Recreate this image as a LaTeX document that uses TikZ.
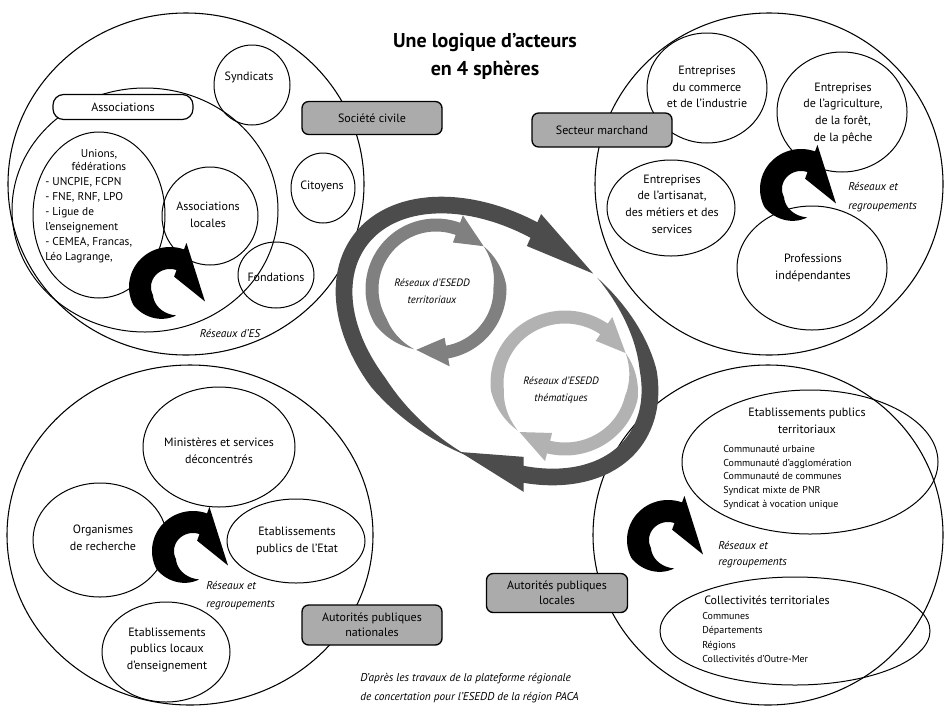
\documentclass[tikz,border=0pt]{standalone}
\usepackage{fontspec}
\setmainfont{PT Sans}
\usetikzlibrary{shapes.geometric}
% circular arrow: cx, cy, rx, ry, rotation, band width, tail angle, head-base angle, tip angle
\def\cycTO{0}
\newcommand\cycArrow[9]{%
  \pgfmathsetmacro\cycHW{#6/2}%
  \fill[fill=\cycColor, shift={(#1,#2)}, rotate=#5]
    plot[domain=#7:#8, samples=70] ({(#3+\cycHW*min(1,(\x-#7)/\cycT))*cos(\x)}, {(#4+\cycHW*min(1,(\x-#7)/\cycT))*sin(\x)})
    -- ({(#3+\cycHW+\cycH)*cos(#8)}, {(#4+\cycHW+\cycH)*sin(#8)})
    -- ({(#3+\cycTO)*cos(#9)}, {(#4+\cycTO)*sin(#9)})
    -- ({(#3-\cycHW-\cycH)*cos(#8)}, {(#4-\cycHW-\cycH)*sin(#8)})
    -- plot[domain=#8:#7, samples=70] ({(#3-\cycHW*min(1,(\x-#7)/\cycT))*cos(\x)}, {(#4-\cycHW*min(1,(\x-#7)/\cycT))*sin(\x)})
    -- cycle;}
\newcommand\blackSwirl[2]{%
  \def\cycColor{black}\def\cycH{7}\def\cycT{75}\def\cycTO{8}%
  \cycArrow{#1}{#2}{30}{29}{0}{22}{78}{290}{383}\def\cycTO{0}}
\begin{document}
\begin{tikzpicture}[x=0.75pt,y=-0.75pt,
  sph/.style={draw, ellipse, line width=0.8pt, inner sep=0pt, outer sep=0pt},
  bub/.style={draw, ellipse, line width=0.75pt, inner sep=0pt, outer sep=0pt},
  gbox/.style={draw, rectangle, rounded corners=5pt, fill=black!33, line width=1pt, inner sep=0pt, align=center, font=\fontsize{9}{11.5}\selectfont},
  txt/.style={inner sep=0pt, align=center, font=\fontsize{9}{12.5}\selectfont},
  itx/.style={inner sep=0pt, align=left, font=\fontsize{8.5}{14}\selectfont\itshape},
  lst/.style={inner sep=0pt, align=left, anchor=north west}
]
\useasboundingbox (0,0) rectangle (945,707);

% ---------- four spheres ----------
\node[sph, minimum width=267pt, minimum height=256.5pt] (sc) at (186,184) {};
\node[sph, minimum width=261pt, minimum height=256.5pt] (sm) at (769,184) {};
\node[sph, minimum width=274.5pt, minimum height=255pt] (apn) at (190,535) {};
\node[sph, minimum width=262.5pt, minimum height=255pt] (apl) at (768,535) {};

% ---------- société civile ----------
\node[bub, minimum width=199.5pt, minimum height=183pt] (assocE) at (145,210) {};
\node[bub, minimum width=99pt, minimum height=124.5pt] (unions) at (99,215) {};
\node[bub, minimum width=72pt, minimum height=73.5pt] (asloc) at (210,216) {};
\node[bub, minimum width=57pt, minimum height=60pt] (synd) at (252,85) {};
\node[bub, minimum width=48pt, minimum height=52.5pt] (citoy) at (323,188) {};
\node[bub, minimum width=57pt, minimum height=49.5pt] (fond) at (276,275) {};

% ---------- secteur marchand ----------
\node[bub, minimum width=90pt, minimum height=82.5pt] (com) at (707,88) {};
\node[bub, minimum width=97.5pt, minimum height=90pt] (agri) at (842,112) {};
\node[bub, minimum width=96pt, minimum height=72pt] (arti) at (671,208) {};
\node[bub, minimum width=112.5pt, minimum height=93pt] (prof) at (812,268) {};

% ---------- autorités publiques nationales ----------
\node[bub, minimum width=114pt, minimum height=90pt] (mini) at (219,447) {};
\node[bub, minimum width=100.5pt, minimum height=85.5pt] (orga) at (100,540) {};
\node[bub, minimum width=103.5pt, minimum height=63pt] (etab) at (296,541) {};
\node[bub, minimum width=96pt, minimum height=75pt] (epl) at (166,652) {};

% ---------- autorités publiques locales ----------
\node[bub, minimum width=192pt, minimum height=108pt] (ept) at (810,462) {};
\node[bub, minimum width=202.5pt, minimum height=81pt] (coll) at (795,631) {};

% ---------- central circular arrows ----------
\def\cycColor{black!70}\def\cycH{9}\def\cycT{40}
\cycArrow{497}{341}{170}{114}{-36}{17}{75}{258}{283}
\cycArrow{497}{341}{170}{114}{-36}{17}{285}{414}{438}
\def\cycColor{black!50}\def\cycH{8}\def\cycT{40}
\cycArrow{436}{289}{64}{64}{0}{13}{110}{290}{318}
\cycArrow{436}{289}{64}{64}{0}{13}{318}{440}{468}
\def\cycColor{black!30}
\cycArrow{565}{383}{68}{66}{0}{13}{134}{305}{333}
\cycArrow{565}{383}{68}{66}{0}{13}{333}{464}{492}

% ---------- black swirls ----------
\blackSwirl{170}{287}
\blackSwirl{801}{189}
\blackSwirl{193}{551}
\blackSwirl{668}{540}

% ---------- boxes ----------
\node[draw, rectangle, rounded corners=8pt, fill=white, line width=0.9pt, minimum width=105pt, minimum height=18.75pt, inner sep=0pt, font=\fontsize{9}{11}\selectfont] (assocB) at (123,107) {Associations};
\node[gbox, minimum width=105pt, minimum height=24.75pt] (scB) at (372,118) {Société civile};
\node[gbox, minimum width=105pt, minimum height=25.5pt] (smB) at (602,130) {Secteur marchand};
\node[gbox, minimum width=105pt, minimum height=30pt] (apnB) at (372,625) {Autorités publiques\\nationales};
\node[gbox, minimum width=105.75pt, minimum height=29.25pt] (aplB) at (557,593) {Autorités publiques\\locales};

% ---------- texts ----------
\node[inner sep=0pt, align=center, font=\fontsize{15}{21}\selectfont\bfseries] (title) at (485,56) {Une logique d'acteurs\\en 4 sphères};

\node[txt] (tSynd) at (249,77) {Syndicats};
\node[txt] (tCit) at (322,186) {Citoyens};
\node[txt, font=\fontsize{8.5}{9.75}\selectfont] (tUn) at (99,160) {Unions,\\fédérations};
\node[lst, font=\fontsize{8.5}{11.25}\selectfont] (tUnL) at (45,177) {- UNCPIE, FCPN\\- FNE, RNF, LPO\\- Ligue de\\l'enseignement\\- CEMEA, Francas,\\Léo Lagrange,};
\node[txt] (tAsl) at (208,215) {Associations\\locales};
\node[txt] (tFond) at (276,277) {Fondations};
\node[itx] (tRes1) at (230,333) {Réseaux d'ES};

\node[txt] (tCom) at (707,87) {Entreprises\\du commerce\\et de l'industrie};
\node[txt] (tAgri) at (843,113) {Entreprises\\de l'agriculture,\\de la forêt,\\de la pêche};
\node[txt] (tArti) at (672,204) {Entreprises\\de l'artisanat,\\des métiers et des\\services};
\node[txt] (tProf) at (813,268) {Professions\\indépendantes};
\node[itx, anchor=west] (tRes2) at (848,197) {Réseaux et\\regroupements};

\node[txt] (tMini) at (219,451) {Ministères et services\\déconcentrés};
\node[txt] (tOrga) at (103,538) {Organismes\\de recherche};
\node[txt] (tEtab) at (297,541) {Etablissements\\publics de l'Etat};
\node[txt] (tEpl) at (167,650) {Etablissements\\publics locaux\\d'enseignement};
\node[itx, anchor=west, font=\fontsize{8.5}{13.5}\selectfont\itshape] (tRes3) at (206,596) {Réseaux et\\regroupements};

\node[txt] (tEpt) at (807,421) {Etablissements publics\\territoriaux};
\node[lst, font=\fontsize{7.5}{10.3}\selectfont] (tEptL) at (723,445) {Communauté urbaine\\Communauté d'agglomération\\Communauté de communes\\Syndicat mixte de PNR\\Syndicat à vocation unique};
\node[itx, anchor=west, font=\fontsize{8.5}{12}\selectfont\itshape] (tRes4) at (718,555) {Réseaux et\\regroupements};
\node[txt] (tColl) at (767,600) {Collectivités territoriales};
\node[lst, font=\fontsize{7.5}{10.9}\selectfont] (tCollL) at (702,612) {Communes\\Départements\\Régions\\Collectivités d'Outre-Mer};

\node[inner sep=0pt, align=center, font=\fontsize{8}{12.5}\selectfont\itshape] (tTerr) at (432,291) {Réseaux d'ESEDD\\territoriaux};
\node[inner sep=0pt, align=center, font=\fontsize{8}{12.5}\selectfont\itshape] (tThem) at (561,390) {Réseaux d'ESEDD\\thématiques};

\node[itx, anchor=west] (tFoot) at (360,688) {D'après les travaux de la plateforme régionale\\de concertation pour l'ESEDD de la région PACA};
\end{tikzpicture}
\end{document}
